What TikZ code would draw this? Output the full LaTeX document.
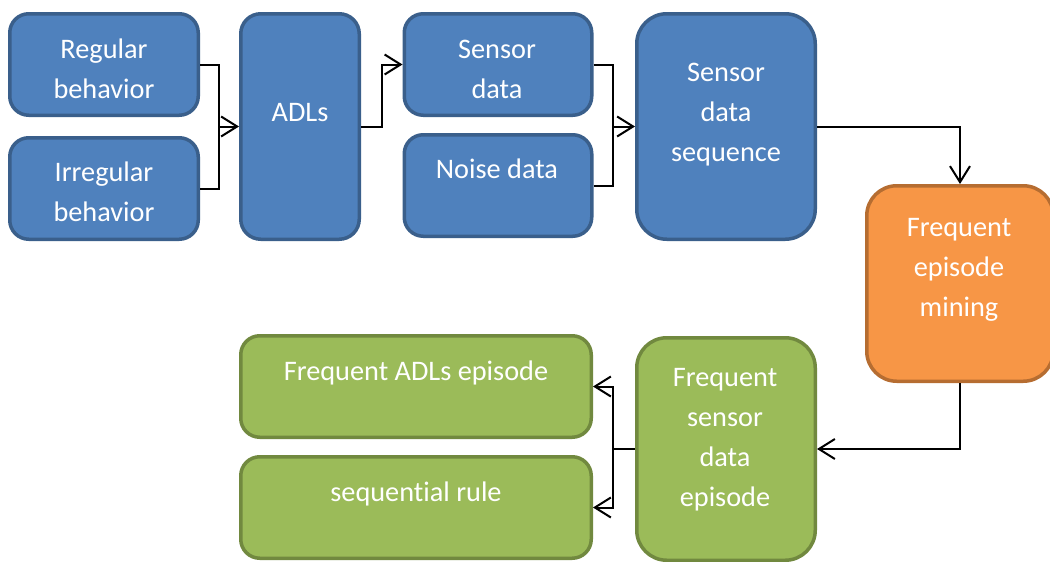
\documentclass[tikz,border=0pt]{standalone}
\usepackage{fontspec}
\setmainfont[Ligatures={NoCommon,NoRare},Contextuals=NoAlternate]{Carlito}
\usetikzlibrary{arrows.meta}
\definecolor{bluefill}{HTML}{4F81BD}
\definecolor{blueline}{HTML}{3A5F8B}
\definecolor{orangefill}{HTML}{F79646}
\definecolor{orangeline}{HTML}{B66D31}
\definecolor{greenfill}{HTML}{9BBB59}
\definecolor{greenline}{HTML}{71893F}
\newcommand{\lnst}{\strut}
\tikzset{
  box/.style={rectangle, inner sep=0pt, line width=3.5pt},
  bluebox/.style={box, fill=bluefill, draw=blueline},
  orangebox/.style={box, fill=orangefill, draw=orangeline},
  greenbox/.style={box, fill=greenfill, draw=greenline},
  lbl/.style={text=white, align=center, inner sep=0pt,
    font=\fontsize{28.3}{40}\selectfont},
  conn/.style={line width=2pt, line join=miter,
    -{Straight Barb[length=16pt, width=20pt, line width=2pt]}},
  plain/.style={line width=2pt}
}
\begin{document}
\begin{tikzpicture}[x=1pt, y=-1pt]
\useasboundingbox (0,0) rectangle (1050,562);

% input boxes
\node[bluebox, minimum width=188.5pt, minimum height=101.5pt, rounded corners=19pt] (reg) at (104,64.5) {};
\node[bluebox, minimum width=188.5pt, minimum height=101.5pt, rounded corners=19pt] (irr) at (104,188.5) {};
\node[bluebox, minimum width=118.5pt, minimum height=225.5pt, rounded corners=20pt] (adl) at (300,126.5) {};
\node[bluebox, minimum width=187.5pt, minimum height=101.5pt, rounded corners=19pt] (sen) at (498,64.5) {};
\node[bluebox, minimum width=187.5pt, minimum height=101.5pt, rounded corners=19pt] (noi) at (498,185.5) {};
\node[bluebox, minimum width=178.5pt, minimum height=225.5pt, rounded corners=30pt] (sds) at (726,126.5) {};

% mining step
\node[orangebox, minimum width=186.5pt, minimum height=195.5pt, rounded corners=30pt] (fem) at (960,283.5) {};

% results
\node[greenbox, minimum width=178.5pt, minimum height=222.5pt, rounded corners=30pt] (fsde) at (726,449) {};
\node[greenbox, minimum width=350.5pt, minimum height=101.5pt, rounded corners=19pt] (fadl) at (416,386.5) {};
\node[greenbox, minimum width=350.5pt, minimum height=101.5pt, rounded corners=19pt] (sr) at (416,507.5) {};

% labels
\node[lbl] (reg-t) at (104,70.5) {\lnst Regular\\\lnst behavior};
\node[lbl] (irr-t) at (104,193.5) {\lnst Irregular\\\lnst behavior};
\node[lbl] (adl-t) at (300,113.5) {\lnst ADLs};
\node[lbl] (sen-t) at (497,70.5) {\lnst Sensor\\\lnst data};
\node[lbl] (noi-t) at (497,170.5) {\lnst Noise data};
\node[lbl] (sds-t) at (726,113.5) {\lnst Sensor\\\lnst data\\\lnst sequence};
\node[lbl] (fem-t) at (959,268.5) {\lnst Frequent\\\lnst episode\\\lnst mining};
\node[lbl] (fsde-t) at (725,438.5) {\lnst Frequent\\\lnst sensor\\\lnst data\\\lnst episode};
\node[lbl] (fadl-t) at (416,372.5) {\lnst Frequent ADLs episode};
\node[lbl] (sr-t) at (416,493.5) {\lnst sequent\kern0pt ial rule};

% junction points
\coordinate (j1) at (219,126.5);
\coordinate (j2) at (382,64.5);
\coordinate (j3) at (613,126.5);
\coordinate (j4) at (613,449);

% connectors
\draw[plain] (reg.east) -| (j1);
\draw[plain] (irr.east) -| (j1);
\draw[conn] (j1) -- (adl.west);
\draw[conn] (adl.east) -| (j2) -- (sen.west);
\draw[plain] (sen.east) -| (j3);
\draw[plain] (noi.east) -| (j3);
\draw[conn] (j3) -- (sds.west);
\draw[conn] (sds.east) -| (fem.north);
\draw[conn] (fem.south) |- (fsde.east);
\draw[plain] (fsde.west) -- (j4);
\draw[conn] (j4) |- (fadl.east);
\draw[conn] (j4) |- (sr.east);
\end{tikzpicture}
\end{document}
